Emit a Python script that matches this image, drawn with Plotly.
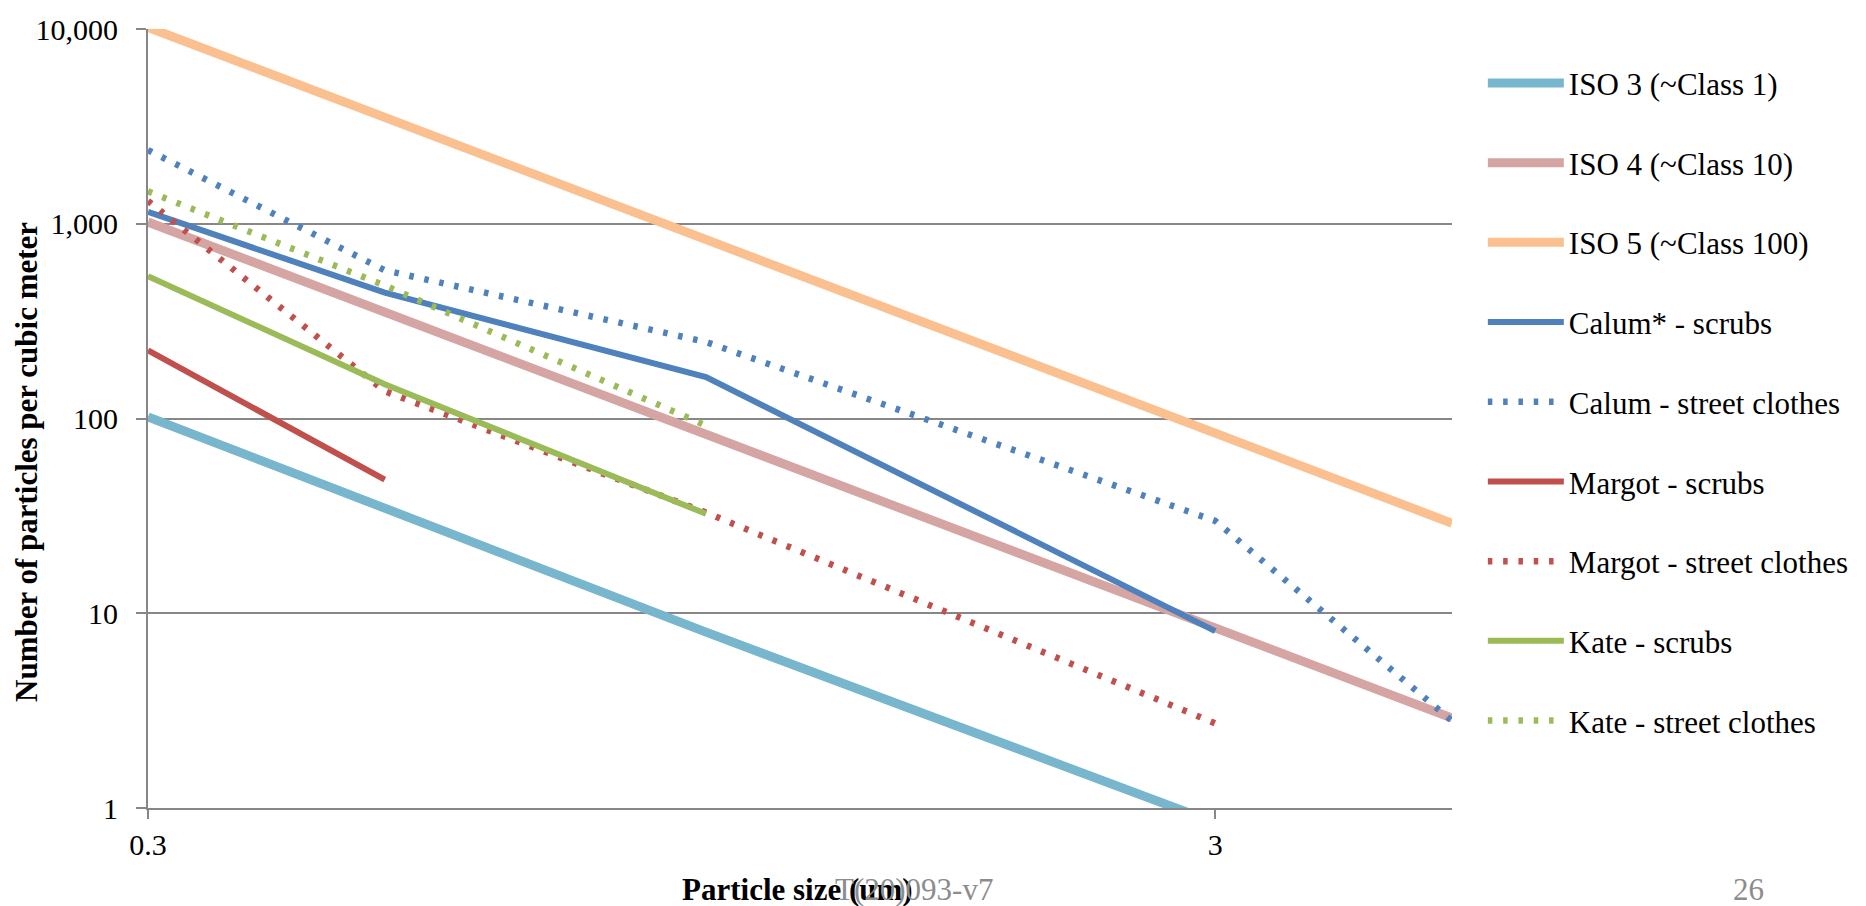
import plotly.graph_objects as go

sizes = [0.3, 0.5, 1.0, 3.0, 5.0]

iso3 = [102, 35, 8, 0.84, 0.29]
iso4 = [1020, 352, 83, 8.4, 2.9]
iso5 = [10200, 3520, 832, 84, 29]

calum_scrubs = [1150, 443, 163, 8.1]
calum_street = [2390, 577, 247, 29.8, 2.8]
margot_scrubs = [224, 48.5]
margot_street = [1310, 138, 32.9, 2.72]
kate_scrubs = [538, 150, 32.4]
kate_street = [1467, 482, 92]

DOT = "4.5px,10.8px"
series = [
    ("ISO 3 (~Class 1)", iso3, "#77B6CC", 9, "solid"),
    ("ISO 4 (~Class 10)", iso4, "#D5A5A4", 9, "solid"),
    ("ISO 5 (~Class 100)", iso5, "#FAC090", 9, "solid"),
    ("Calum* - scrubs", calum_scrubs, "#4F81BD", 6, "solid"),
    ("Calum - street clothes", calum_street, "#4F81BD", 6.5, DOT),
    ("Margot - scrubs", margot_scrubs, "#C0504D", 6, "solid"),
    ("Margot - street clothes", margot_street, "#C0504D", 6.5, DOT),
    ("Kate - scrubs", kate_scrubs, "#9BBB59", 6, "solid"),
    ("Kate - street clothes", kate_street, "#9BBB59", 6.5, DOT),
]

fig = go.Figure()
for name, vals, color, width, dash in series:
    fig.add_trace(go.Scatter(
        x=sizes[:len(vals)], y=vals, name=name, mode="lines",
        line=dict(color=color, width=width, dash=dash),
        legendgroup=name,
    ))

FONT = "Liberation Serif, Times New Roman, serif"
GRID = "#878787"

W, H = 1866, 906
L, R, T, B = 147.6, 408, 20, 98
pw = W - L - R
ph = H - T - B

def px(xp):
    return (xp - L) / pw

def py(yp):
    return (H - B - yp) / ph

fig.update_layout(
    width=W, height=H,
    margin=dict(l=L, r=R, t=T, b=B, pad=0),
    plot_bgcolor="white", paper_bgcolor="white",
    font=dict(family=FONT, size=30, color="black"),
    showlegend=True,
    legend=dict(
        x=px(1489), xanchor="left", y=py(47.6), yanchor="top",
        font=dict(family=FONT, size=31, color="black"),
        traceorder="grouped", tracegroupgap=36.4,
        itemwidth=76, bgcolor="rgba(0,0,0,0)", borderwidth=0,
    ),
    xaxis=dict(
        type="log", range=[-0.5228787, 0.69897],
        tickvals=[0.3, 3], ticktext=["0.3", "3"],
        showgrid=False, showline=True, linecolor=GRID, linewidth=2,
        ticks="outside", ticklen=9, tickwidth=2, tickcolor=GRID,
        tickfont=dict(family=FONT, size=30, color="black"),
        ticklabelstandoff=0, zeroline=False,
    ),
    yaxis=dict(
        type="log", range=[0, 4],
        tickvals=[1, 10, 100, 1000, 10000],
        ticktext=["1", "10", "100", "1,000", "10,000"],
        showgrid=True, gridcolor=GRID, gridwidth=2,
        showline=True, linecolor=GRID, linewidth=2,
        ticks="outside", ticklen=10, tickwidth=2, tickcolor=GRID,
        tickfont=dict(family=FONT, size=30, color="black"),
        ticklabelstandoff=12, zeroline=False,
    ),
    annotations=[
        dict(text="<b>Number of particles per cubic meter</b>", textangle=-90,
             xref="paper", yref="paper", x=px(26), y=py(458),
             xanchor="center", yanchor="middle", showarrow=False,
             font=dict(family=FONT, size=31, color="black")),
        dict(text="<b>Particle size (um)</b>",
             xref="paper", yref="paper", x=px(800), y=py(890),
             xanchor="center", yanchor="middle", showarrow=False,
             font=dict(family=FONT, size=31, color="black")),
        dict(text="T(20)093-v7",
             xref="paper", yref="paper", x=px(917), y=py(890),
             xanchor="center", yanchor="middle", showarrow=False,
             font=dict(family=FONT, size=31, color="#8C8C8C")),
        dict(text="26",
             xref="paper", yref="paper", x=px(1756), y=py(890),
             xanchor="center", yanchor="middle", showarrow=False,
             font=dict(family=FONT, size=31, color="#8C8C8C")),
    ],
)

fig.write_html("out.html")
